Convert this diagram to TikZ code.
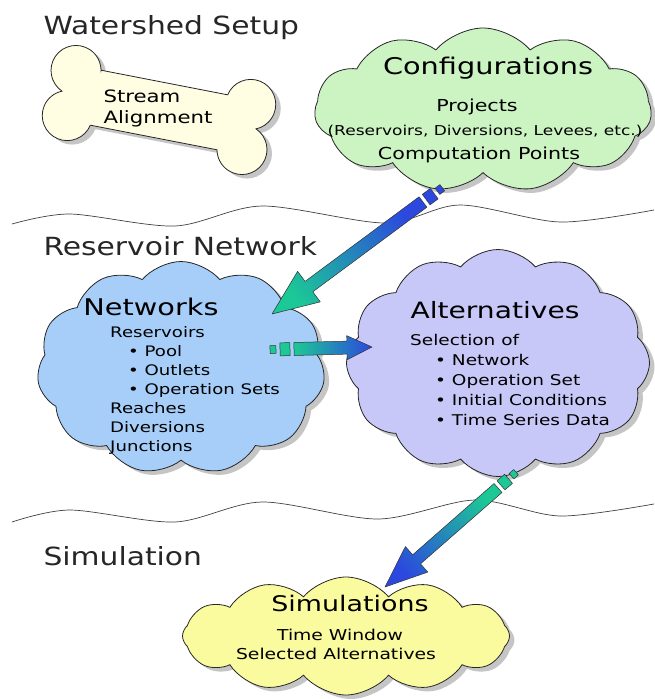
\documentclass[tikz,border=0pt]{standalone}
\usepackage{fontspec}
\setmainfont[FakeStretch=1.19]{DejaVu Sans}
\newfontfamily\comicfont[FakeStretch=1.25]{DejaVu Sans}
\usetikzlibrary{shapes.symbols,shadows,calc}

\definecolor{confgreen}{RGB}{204,244,194}
\definecolor{bonecream}{RGB}{255,253,226}
\definecolor{netblue}{RGB}{166,206,248}
\definecolor{altlilac}{RGB}{200,200,248}
\definecolor{simyellow}{RGB}{250,250,158}
\definecolor{arrowblue}{RGB}{44,72,222}
\definecolor{arrowteal}{RGB}{28,200,150}

\tikzset{
  cloudshape/.style={cloud, cloud puffs=#1, cloud puff arc=100, cloud ignores aspect, draw=black!85, line width=0.8pt,
    drop shadow={shadow xshift=5pt, shadow yshift=-4pt, fill=black!45}},
  cloudshape/.default=11,
  bone/.style={draw=black!85, line width=0.8pt, fill=bonecream,
    drop shadow={shadow xshift=5pt, shadow yshift=-4pt, fill=black!45}},
  heading/.style={anchor=base west, font=\fontsize{25}{30}\selectfont, text=black!85},
  cloudtitle/.style={font=\comicfont\fontsize{#1}{#1}\selectfont},
  cloudtitle/.default=23,
  clouditem/.style={font=\comicfont\fontsize{#1}{#1}\selectfont},
  clouditem/.default=14.5,
  arrowline/.style={draw=black!80, line width=0.5pt, line join=round},
  wave/.style={line width=0.7pt, black!75}
}

% block arrow: tail, head, shaft half width, head half width, head length, tail colour, head colour
\newcommand\blockarrow[7]{%
  \pgfmathanglebetweenpoints{\pgfpointanchor{#1}{center}}{\pgfpointanchor{#2}{center}}%
  \pgfmathsetmacro\shadeang{\pgfmathresult-90}%
  \coordinate (#1-base) at ($(#2)!#5!(#1)$);
  \coordinate (#1-b1) at ($(#1)!-4pt!(#2)$);
  \coordinate (#1-b2) at ($(#1)!-14pt!(#2)$);
  \coordinate (#1-b3) at ($(#1)!-18pt!(#2)$);
  \coordinate (#1-b4) at ($(#1)!-24pt!(#2)$);
  \shade[arrowline, bottom color=#6, top color=#7, shading angle=\shadeang]
    ($(#1)!#3!90:(#2)$) -- ($(#1-base)!#3!90:(#2)$) -- ($(#1-base)!#4!90:(#2)$) -- (#2)
    -- ($(#1-base)!#4!-90:(#2)$) -- ($(#1-base)!#3!-90:(#2)$) -- ($(#1)!#3!-90:(#2)$) -- cycle;
  \filldraw[arrowline, fill=#6] ($(#1-b1)!#3!90:(#2)$) -- ($(#1-b2)!#3!90:(#2)$)
    -- ($(#1-b2)!#3!-90:(#2)$) -- ($(#1-b1)!#3!-90:(#2)$) -- cycle;
  \filldraw[arrowline, fill=#6] ($(#1-b3)!0.6*#3!90:(#2)$) -- ($(#1-b4)!0.6*#3!90:(#2)$)
    -- ($(#1-b4)!0.6*#3!-90:(#2)$) -- ($(#1-b3)!0.6*#3!-90:(#2)$) -- cycle;
}

\begin{document}
\begin{tikzpicture}[x=1pt, y=-1pt]
  \useasboundingbox (0,0) rectangle (654,699);

  % Dividing waves
  \draw[wave] plot[smooth] coordinates {(12,224) (70,214) (175,226) (262,206) (385,223) (460,205) (560,222) (654,210)};
  \draw[wave] plot[smooth] coordinates {(12,522) (70,510) (175,522) (262,502) (378,519) (475,500) (560,516) (654,504)};

  % Headings
  \node[heading] (hwatershed) at (40,34) {Watershed Setup};
  \node[heading] (hreservoir) at (40,255) {Reservoir Network};
  \node[heading] (hsimulation) at (40,565) {Simulation};

  % Bone
  \begin{scope}[shift={(159,110)}, x=1pt, y=1pt, rotate=-11]
    \draw[bone] (-64.51,28) -- (64.51,28)
      arc[start angle=168.46, end angle=-66.9, radius=25]
      arc[start angle=66.9, end angle=-168.46, radius=25]
      -- (-64.51,-28)
      arc[start angle=-11.54, end angle=-246.9, radius=25]
      arc[start angle=246.9, end angle=11.54, radius=25] -- cycle;
  \end{scope}
  \node[clouditem=17, align=left, anchor=west] (streamtext) at (100,108) {Stream\\[4pt]Alignment};

  % Clouds
  \node[cloudshape=11, fill=confgreen, minimum width=337pt, minimum height=164pt] (conf) at (483,110) {};
  \node[cloudshape=11, fill=netblue, minimum width=288pt, minimum height=213pt] (net) at (181,368) {};
  \node[cloudshape=12, fill=altlilac, minimum width=303pt, minimum height=227pt] (alt) at (498,363) {};
  \node[cloudshape=12, fill=simyellow, minimum width=327pt, minimum height=118pt] (sim) at (346,636) {};

  % Configurations
  \node[cloudtitle] (conftitle) at (488,68) {Configurations};
  \node[clouditem=16.5] (confproj) at (477,107) {Projects};
  \node[clouditem=13.6] (confres) at (485,131) {(Reservoirs, Diversions, Levees, etc.)};
  \node[clouditem=16.5] (confcomp) at (479,155) {Computation Points};

  % Networks
  \node[cloudtitle] (nettitle) at (151,307) {Networks};
  \foreach \txt [count=\i from 0] in {Reservoirs, \hspace*{18pt}• Pool, \hspace*{18pt}• Outlets,
      \hspace*{18pt}• Operation Sets, Reaches, Diversions, Junctions}
    \node[clouditem, anchor=base west, inner sep=0pt] (netitem\i) at (110,337+19*\i) {\txt};

  % Alternatives
  \node[cloudtitle=22.5] (alttitle) at (495,310) {Alternatives};
  \foreach \txt [count=\i from 0] in {Selection of, \hspace*{25pt}• Network, \hspace*{25pt}• Operation Set,
      \hspace*{25pt}• Initial Conditions, \hspace*{25pt}• Time Series Data}
    \node[clouditem=14.8, anchor=base west, inner sep=0pt] (altitem\i) at (410,345+20*\i) {\txt};

  % Simulations
  \node[cloudtitle=21.5] (simtitle) at (350,603) {Simulations};
  \node[clouditem=15] (simwindow) at (340,635) {Time Window};
  \node[clouditem=15] (simselect) at (336,654) {Selected Alternatives};

  % Arrows
  \coordinate (a1t) at ($(conf.center)+(-60,92)$);
  \coordinate (a1h) at ($(net.center)+(91,-54)$);
  \coordinate (a2t) at ($(net.center)+(113,-19)$);
  \coordinate (a2h) at ($(alt.center)+(-126,-16)$);
  \coordinate (a3t) at ($(alt.center)+(0,125)$);
  \coordinate (a3h) at ($(sim.center)+(39,-49)$);
  \blockarrow{a1t}{a1h}{6.5pt}{19pt}{46pt}{arrowblue}{arrowteal}
  \blockarrow{a2t}{a2h}{6.5pt}{12pt}{25pt}{arrowteal}{arrowblue}
  \blockarrow{a3t}{a3h}{6pt}{17pt}{42pt}{arrowteal}{arrowblue}
\end{tikzpicture}
\end{document}
